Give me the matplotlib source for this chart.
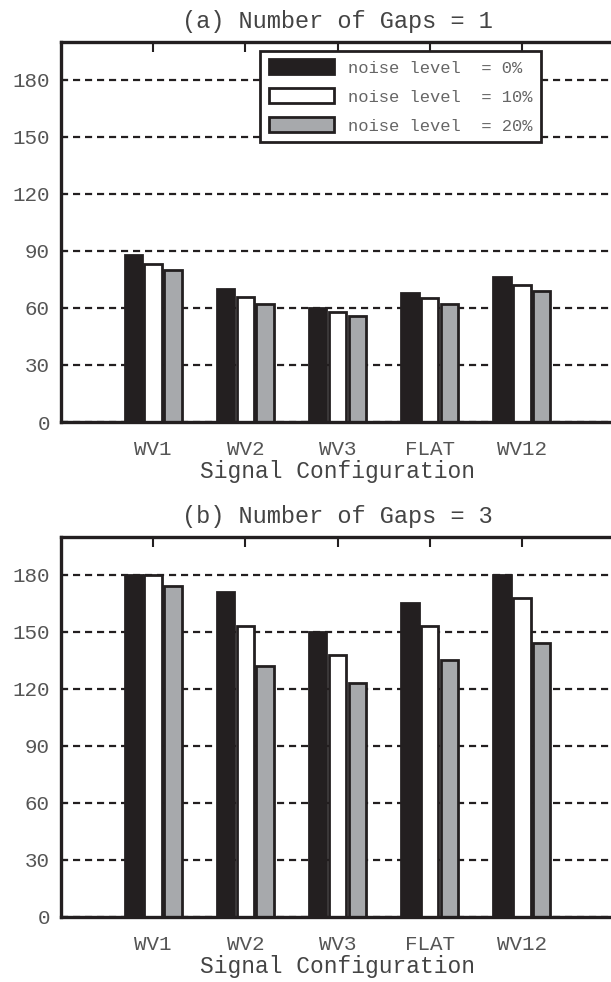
import matplotlib
matplotlib.use("Agg")
import matplotlib.pyplot as plt
from matplotlib.patches import Patch
import numpy as np

plt.rcParams['font.family'] = ['Liberation Mono', 'DejaVu Sans Mono']

categories = ["WV1", "WV2", "WV3", "FLAT", "WV12"]
series_labels = ["noise level  = 0%", "noise level  = 10%", "noise level  = 20%"]

gaps1 = [
    [88, 70, 60, 68, 76],   # 0% noise
    [83, 66, 58, 65, 72],   # 10% noise
    [80, 62, 56, 62, 69],   # 20% noise
]
gaps3 = [
    [180, 171, 150, 165, 180],
    [180, 153, 138, 153, 168],
    [174, 132, 123, 135, 144],
]
titles = ["(a) Number of Gaps = 1", "(b) Number of Gaps = 3"]
yticks = [0, 30, 60, 90, 120, 150, 180]

dark = "#231f20"
fills = [dark, "#ffffff", "#a7a9ac"]
text_col = "#555555"

W, H = 611, 982
fig = plt.figure(figsize=(W / 100, H / 100), dpi=100)

# axes rectangles in pixels: left, top, right, bottom
rects = [(61, 41.7, 614, 422), (61, 536.7, 614, 916.7)]

x = np.arange(1, len(categories) + 1)
width = 0.19
offsets = [-0.215, 0.0, 0.215]

for k, (data, title) in enumerate(zip([gaps1, gaps3], titles)):
    l, t, r, b = rects[k]
    ax = fig.add_axes([l / W, 1 - b / H, (r - l) / W, (b - t) / H])
    ax.set_axisbelow(True)
    for s, vals in enumerate(data):
        ax.bar(x + offsets[s], vals, width, color=fills[s], edgecolor=dark,
               linewidth=2.0, zorder=2)
    ax.set_xlim(0, 6)
    ax.set_ylim(0, 200)
    ax.set_yticks(yticks)
    ax.set_xticks(x)
    ax.set_xticklabels(categories)
    ax.yaxis.grid(True, color=dark, linestyle=(0, (3.2, 2.2)), linewidth=1.6)
    ax.tick_params(axis='both', direction='in', labelsize=15, colors=dark,
                   labelcolor=text_col, width=1.5)
    ax.tick_params(axis='x', top=True, bottom=True, length=7, pad=13)
    ax.tick_params(axis='y', left=True, length=5, pad=8)
    for side in ["left", "top", "bottom"]:
        ax.spines[side].set_linewidth(2.4)
        ax.spines[side].set_color(dark)
    ax.spines["right"].set_visible(False)
    ax.set_title(title, fontsize=17, color="#444444", pad=10)
    ax.set_xlabel("Signal Configuration", fontsize=16.5, color="#444444",
                  labelpad=1)

    if k == 0:
        handles = [Patch(facecolor=fills[s], edgecolor=dark, linewidth=2.0)
                   for s in range(3)]
        leg = ax.legend(handles, series_labels, loc='upper left',
                        bbox_to_anchor=(0.36, 0.976), borderaxespad=0,
                        fontsize=12.3, handlelength=3.8, handleheight=0.95,
                        labelspacing=0.75, handletextpad=0.85,
                        borderpad=0.5, fancybox=False, framealpha=1)
        leg.get_frame().set_edgecolor(dark)
        leg.get_frame().set_linewidth(2.0)
        for txt in leg.get_texts():
            txt.set_color("#666666")

fig.savefig("out.png", dpi=100)
